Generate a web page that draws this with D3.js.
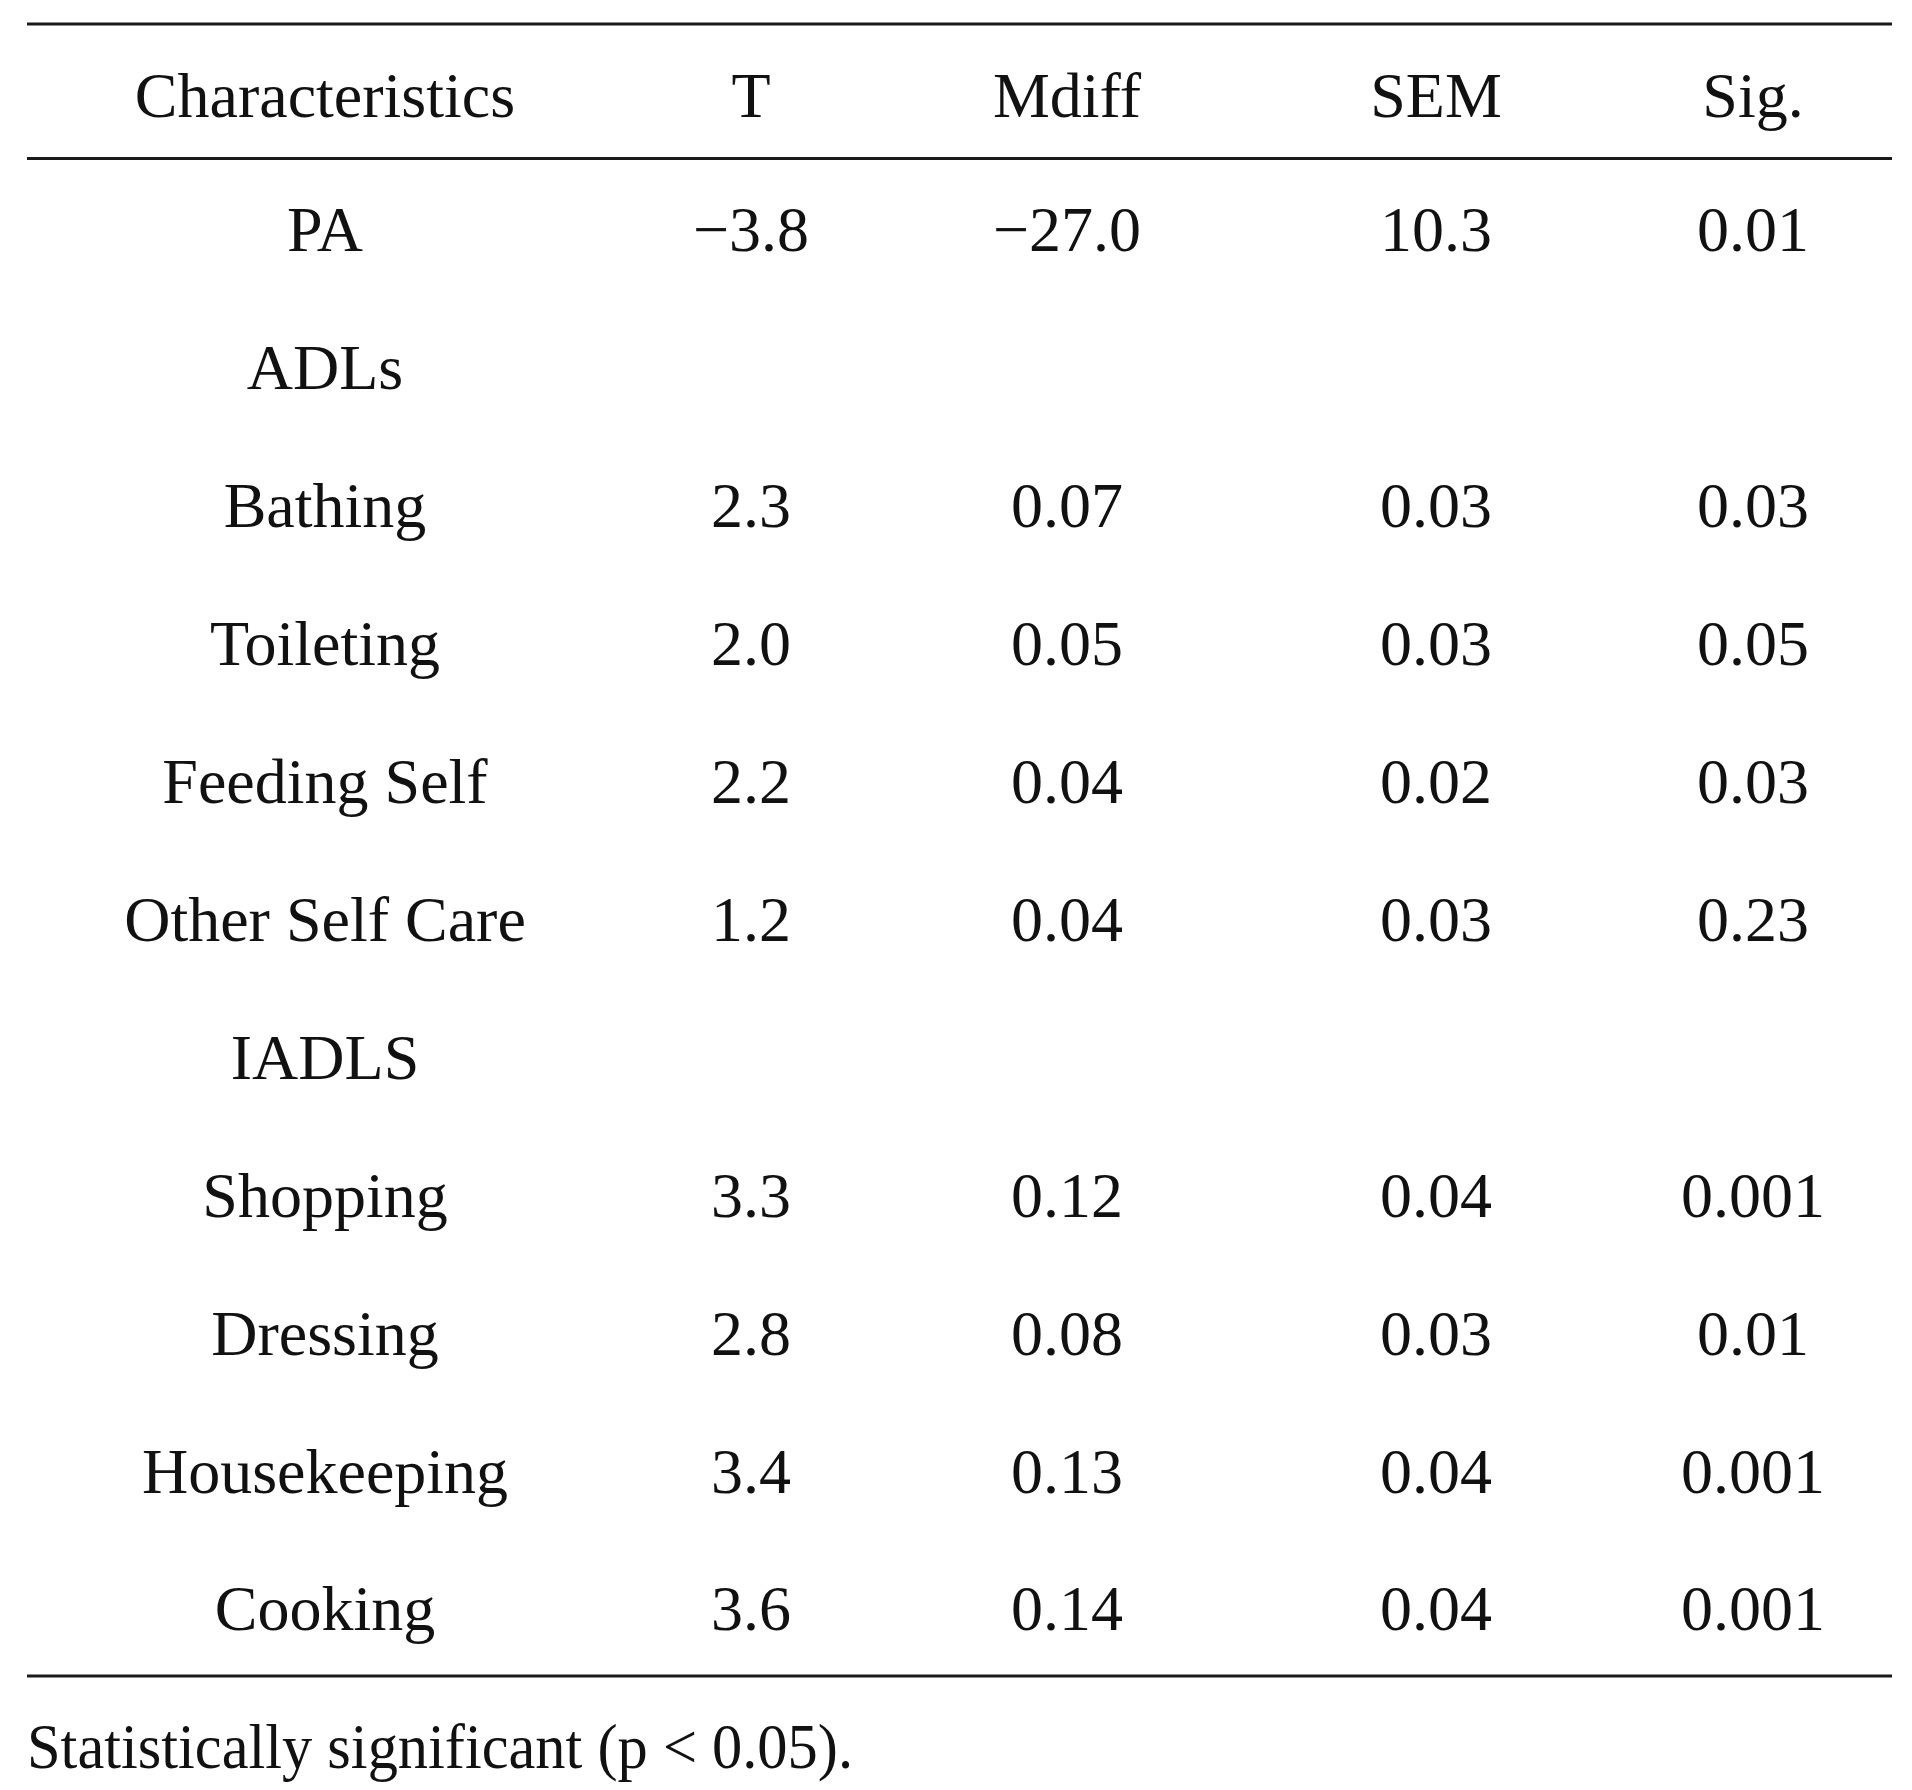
<!DOCTYPE html>
<html>
<head>
<meta charset="utf-8">
<script src="https://cdn.jsdelivr.net/npm/d3@7/dist/d3.min.js"></script>
<style>
  html, body { margin: 0; padding: 0; background: #fff; }
  svg { display: block; }
  text { font-family: "Liberation Serif", "Times New Roman", serif; fill: #111; }
</style>
</head>
<body>
<svg id="chart" width="1912" height="1790"></svg>
<script>
const headers = ["Characteristics", "T", "Mdiff", "SEM", "Sig."];
const characteristics = ["PA", "ADLs", "Bathing", "Toileting", "Feeding Self", "Other Self Care", "IADLS", "Shopping", "Dressing", "Housekeeping", "Cooking"];
const tValues = ["\u22123.8", "", "2.3", "2.0", "2.2", "1.2", "", "3.3", "2.8", "3.4", "3.6"];
const mdiffValues = ["\u221227.0", "", "0.07", "0.05", "0.04", "0.04", "", "0.12", "0.08", "0.13", "0.14"];
const semValues = ["10.3", "", "0.03", "0.03", "0.02", "0.03", "", "0.04", "0.03", "0.04", "0.04"];
const sigValues = ["0.01", "", "0.03", "0.05", "0.03", "0.23", "", "0.001", "0.01", "0.001", "0.001"];
const footnote = "Statistically significant (p < 0.05).";

const svg = d3.select("#chart");
const fontSize = 64;

const colX = d3.scaleOrdinal().domain(headers).range([325, 751, 1067, 1436, 1753]);
const rowY = d3.scalePoint().domain(d3.range(characteristics.length)).range([229, 1608]);

const lineX0 = 27, lineX1 = 1892;
const rules = [24, 158.5, 1676];
svg.selectAll("line.rule").data(rules).join("line")
  .attr("class", "rule")
  .attr("x1", lineX0).attr("x2", lineX1)
  .attr("y1", d => d).attr("y2", d => d)
  .attr("stroke", "#1a1a1a").attr("stroke-width", 3);

svg.selectAll("text.head").data(headers).join("text")
  .attr("class", "head")
  .attr("x", d => colX(d)).attr("y", 95).attr("dy", "0.35em")
  .attr("text-anchor", "middle").attr("font-size", fontSize)
  .text(d => d);

const columns = [characteristics, tValues, mdiffValues, semValues, sigValues];
const cells = [];
columns.forEach((col, ci) => col.forEach((v, ri) => { if (v !== "") cells.push({ h: headers[ci], r: ri, v }); }));

svg.selectAll("text.cell").data(cells).join("text")
  .attr("class", "cell")
  .attr("x", d => colX(d.h)).attr("y", d => rowY(d.r)).attr("dy", "0.35em")
  .attr("text-anchor", "middle").attr("font-size", fontSize)
  .text(d => d.v);

svg.append("text")
  .attr("x", 27).attr("y", 1746).attr("dy", "0.35em")
  .attr("font-size", fontSize)
  .attr("textLength", 826).attr("lengthAdjust", "spacingAndGlyphs")
  .text(footnote);
</script>
</body>
</html>
